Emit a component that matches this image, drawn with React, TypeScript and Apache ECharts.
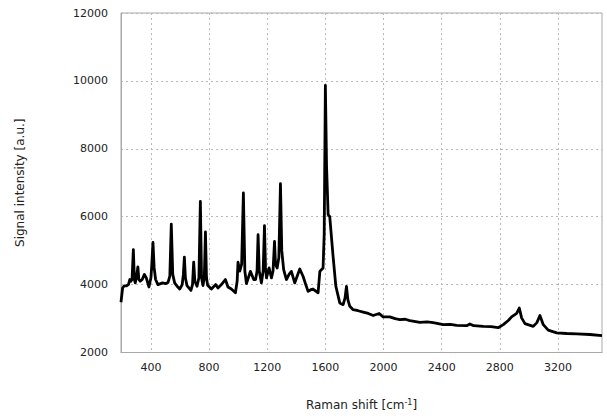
import React, { useEffect, useRef } from "react";
import * as echarts from "echarts";

const ramanShift = [
  194, 205, 215, 230, 245, 255, 262, 270, 279, 286, 292, 300, 310, 317, 326, 340, 355, 368, 386, 400,
  406, 414, 422, 432, 448, 480, 500, 517, 530, 540, 550, 563, 580, 598, 615, 623, 630, 637, 648, 675,
  686, 694, 702, 717, 730, 740, 748, 758, 767, 775, 782, 790, 816, 845, 861, 885, 912, 930, 953, 981,
  993, 999, 1011, 1024, 1036, 1046, 1057, 1070, 1084, 1107, 1120, 1130, 1137, 1145, 1160, 1172, 1181,
  1188, 1195, 1213, 1229, 1240, 1250, 1257, 1268, 1280, 1291, 1300, 1313, 1332, 1350, 1366, 1389, 1410,
  1424, 1447, 1465, 1481, 1500, 1515, 1550, 1562, 1584, 1592, 1600, 1608, 1619, 1630, 1653, 1672, 1699,
  1722, 1735, 1745, 1755, 1768, 1791, 1825, 1860, 1895, 1929, 1970, 1997, 2043, 2080, 2112, 2150, 2181,
  2250, 2300, 2342, 2411, 2460, 2503, 2572, 2594, 2620, 2686, 2740, 2789, 2824, 2860, 2881, 2916, 2934,
  2950, 2973, 3030, 3055, 3076, 3099, 3133, 3191, 3260, 3329, 3420, 3503,
];

const intensity = [
  3480, 3900, 3960, 3960, 4000, 4150, 4100, 4150, 5030, 4150, 4050, 4200, 4520, 4150, 4100, 4150, 4300, 4200, 3930, 4200,
  4600, 5240, 4500, 4150, 4000, 4050, 4030, 4060, 4250, 5780, 4300, 4050, 3950, 3870, 4000, 4300, 4810, 4200, 3970, 3830,
  4000, 4660, 4100, 3950, 4200, 6450, 4200, 3970, 4200, 5550, 4200, 3980, 3870, 4000, 3900, 4000, 4150, 3930, 3870, 3760,
  4100, 4660, 4400, 4600, 6700, 4400, 4030, 4200, 4390, 4150, 4150, 4400, 5470, 4400, 4050, 4400, 5735,
  4500, 4200, 4490, 4200, 4400, 5270, 4600, 4490, 4800, 6970, 5000, 4440, 4150, 4300, 4390, 4050, 4300,
  4460, 4240, 4000, 3800, 3850, 3870, 3760, 4390, 4490, 5500, 9870, 7500, 6060, 6000, 4830, 3950, 3460,
  3410, 3600, 3950, 3550, 3360, 3260, 3230, 3190, 3150, 3090, 3150, 3050, 3050, 3000, 2970, 2980, 2940,
  2890, 2900, 2880, 2820, 2830, 2800, 2790, 2840, 2790, 2770, 2760, 2730, 2820, 2950, 3050, 3150, 3310,
  3020, 2850, 2770, 2880, 3090, 2820, 2660, 2580, 2560, 2550, 2530, 2500,
];

const xTicks = [400, 800, 1200, 1600, 2000, 2400, 2800, 3200];
const xMin = 194;
const xMax = 3503;
const yMin = 2000;
const yMax = 12000;
const yStep = 2000;

export default function App() {
  const ref = useRef<HTMLDivElement>(null);
  useEffect(() => {
    if (!ref.current) return;
    const chart = echarts.init(ref.current, null, { renderer: "svg" });
    const data = ramanShift.map((x, i) => [x, intensity[i]]);
    const font = "DejaVu Sans";
    chart.setOption({
      animation: false,
      backgroundColor: "#ffffff",
      grid: {
        left: 121,
        right: 5,
        top: 13,
        bottom: 63,
        show: true,
        borderColor: "#a8a8a8",
        borderWidth: 1,
        backgroundColor: "transparent",
      },
      xAxis: {
        type: "value",
        min: xMin,
        max: xMax,
        name: "Raman shift [cm{sup|-1}]",
        nameLocation: "middle",
        nameGap: 46,
        nameTextStyle: {
          fontFamily: font,
          fontSize: 12,
          color: "#222",
          rich: {
            sup: { fontSize: 8, fontFamily: font, color: "#222", verticalAlign: "top", padding: [0, 0, 5, 0] },
          },
        },
        axisLine: { show: true, lineStyle: { color: "#a8a8a8", width: 1 } },
        axisTick: { show: false, customValues: xTicks },
        splitLine: { show: true, lineStyle: { type: [2, 3], color: "#b8b8b8", width: 1 } },
        axisLabel: {
          customValues: xTicks,
          formatter: (v: number) => String(v),
          fontFamily: font,
          fontSize: 11,
          color: "#222",
          margin: 9,
        },
      },
      yAxis: {
        type: "value",
        min: yMin,
        max: yMax,
        interval: yStep,
        name: "Signal intensity [a.u.]",
        nameLocation: "middle",
        nameGap: 95,
        nameTextStyle: { fontFamily: font, fontSize: 12, color: "#222" },
        axisLine: { show: true, lineStyle: { color: "#a8a8a8", width: 1 } },
        axisTick: { show: false },
        splitLine: { show: true, lineStyle: { type: [2, 3], color: "#b8b8b8", width: 1 } },
        axisLabel: { formatter: (v: number) => String(v), fontFamily: font, fontSize: 11, color: "#222", margin: 13 },
      },
      series: [
        {
          type: "line",
          data,
          z: 3,
          showSymbol: false,
          symbol: "none",
          lineStyle: { color: "#000000", width: 2.8, join: "round" },
        },
      ],
    });
    return () => chart.dispose();
  }, []);
  return <div ref={ref} style={{ position: "fixed", left: 0, top: 0, width: 607, height: 416 }} />;
}
